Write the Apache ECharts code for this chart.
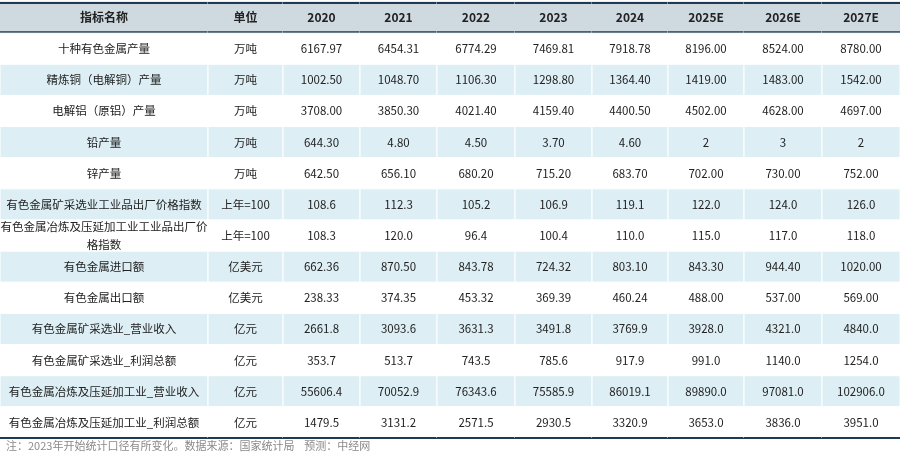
<!DOCTYPE html>
<html>
<head>
<meta charset="utf-8">
<script src="https://cdn.jsdelivr.net/npm/echarts@6/dist/echarts.min.js"></script>
<style>html,body{margin:0;padding:0;background:#fff}#main{width:900px;height:458px}</style>
</head>
<body>
<div id="main"></div>
<script>
var headers = ['指标名称', '单位', '2020', '2021', '2022', '2023', '2024', '2025E', '2026E', '2027E'];
var names = ['十种有色金属产量', '精炼铜（电解铜）产量', '电解铝（原铝）产量', '铅产量', '锌产量',
  '有色金属矿采选业工业品出厂价格指数', '有色金属冶炼及压延加工业工业品出厂价\n格指数',
  '有色金属进口额', '有色金属出口额', '有色金属矿采选业_营业收入', '有色金属矿采选业_利润总额',
  '有色金属冶炼及压延加工业_营业收入', '有色金属冶炼及压延加工业_利润总额'];
var units = ['万吨', '万吨', '万吨', '万吨', '万吨', '上年=100', '上年=100', '亿美元', '亿美元', '亿元', '亿元', '亿元', '亿元'];
var v2020 = ['6167.97', '1002.50', '3708.00', '644.30', '642.50', '108.6', '108.3', '662.36', '238.33', '2661.8', '353.7', '55606.4', '1479.5'];
var v2021 = ['6454.31', '1048.70', '3850.30', '4.80', '656.10', '112.3', '120.0', '870.50', '374.35', '3093.6', '513.7', '70052.9', '3131.2'];
var v2022 = ['6774.29', '1106.30', '4021.40', '4.50', '680.20', '105.2', '96.4', '843.78', '453.32', '3631.3', '743.5', '76343.6', '2571.5'];
var v2023 = ['7469.81', '1298.80', '4159.40', '3.70', '715.20', '106.9', '100.4', '724.32', '369.39', '3491.8', '785.6', '75585.9', '2930.5'];
var v2024 = ['7918.78', '1364.40', '4400.50', '4.60', '683.70', '119.1', '110.0', '803.10', '460.24', '3769.9', '917.9', '86019.1', '3320.9'];
var v2025 = ['8196.00', '1419.00', '4502.00', '2', '702.00', '122.0', '115.0', '843.30', '488.00', '3928.0', '991.0', '89890.0', '3653.0'];
var v2026 = ['8524.00', '1483.00', '4628.00', '3', '730.00', '124.0', '117.0', '944.40', '537.00', '4321.0', '1140.0', '97081.0', '3836.0'];
var v2027 = ['8780.00', '1542.00', '4697.00', '2', '752.00', '126.0', '118.0', '1020.00', '569.00', '4840.0', '1254.0', '102906.0', '3951.0'];
var note = '注：2023年开始统计口径有所变化。数据来源：国家统计局    预测：中经网';

// column edges (layout)
var colEdges = [0, 208, 283, 360, 437, 515, 592, 668, 744, 822, 900];

var columns = [names, units, v2020, v2021, v2022, v2023, v2024, v2025, v2026, v2027];
var rows = ['h'].concat(names.map(function (n, i) { return 'r' + i; }));
var cells = [];
headers.forEach(function (h, c) { cells.push([c, 0, h]); });
columns.forEach(function (col, c) {
  col.forEach(function (v, r) { cells.push([c, r + 1, v]); });
});

var chart = echarts.init(document.getElementById('main'));
chart.setOption({
  animation: false,
  grid: {left: 0, right: 0, top: 2, bottom: 20},
  xAxis: {type: 'value', min: 0, max: 900, show: false},
  yAxis: {type: 'category', data: rows, inverse: true, show: false},
  graphic: [{type: 'text', left: 6, top: 440, style: {text: note, fill: '#8a8a8a', font: '11px "Noto Sans CJK SC"'}}],
  series: [{
    type: 'custom',
    data: cells,
    encode: {x: 0, y: 1},
    renderItem: function (params, api) {
      var c = api.value(0), r = api.value(1), txt = cells[params.dataIndex][2];
      var p0 = api.coord([colEdges[c], r]);
      var p1 = api.coord([colEdges[c + 1], r]);
      var h = api.size([0, 1])[1];
      var y0 = p0[1] - h / 2;
      var header = r === 0;
      var fill = header ? '#cfd9e0' : (r % 2 === 0 ? '#ddeef4' : '#ffffff');
      var children = [
        {type: 'rect', shape: {x: p0[0], y: y0, width: p1[0] - p0[0], height: h},
          style: {fill: fill, stroke: header ? fill : '#ffffff', lineWidth: 1}},
        {type: 'text', style: {text: txt, x: (p0[0] + p1[0]) / 2, y: p0[1], align: 'center', verticalAlign: 'middle',
          fill: '#222', lineHeight: 18,
          font: (header ? 'bold 12px ' : '11.5px ') + '"Noto Sans CJK SC"'}}
      ];
      if (header) {
        children.push({type: 'rect', shape: {x: p0[0], y: y0, width: p1[0] - p0[0], height: 2}, style: {fill: '#1f3a52'}});
        children.push({type: 'rect', shape: {x: p0[0], y: y0 + h - 2, width: p1[0] - p0[0], height: 2}, style: {fill: '#1f3a52'}});
      }
      if (r === rows.length - 1) {
        children.push({type: 'rect', shape: {x: p0[0], y: y0 + h - 1, width: p1[0] - p0[0], height: 2}, style: {fill: '#1f3a52'}});
      }
      return {type: 'group', children: children};
    }
  }]
});
</script>
</body>
</html>
